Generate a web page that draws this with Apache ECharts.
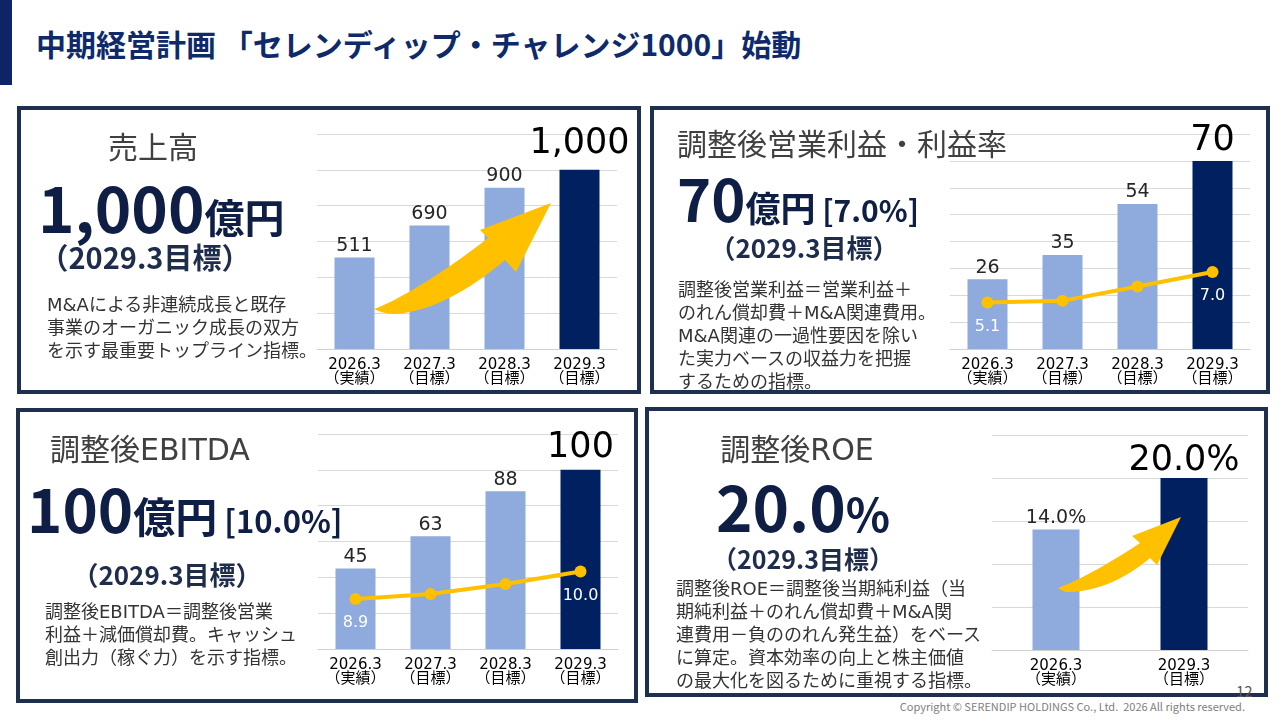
<!DOCTYPE html>
<html lang="ja">
<head>
<meta charset="utf-8">
<title>中期経営計画</title>
<script src="https://cdn.jsdelivr.net/npm/echarts@6/dist/echarts.min.js"></script>
<style>
  html, body { margin: 0; padding: 0; background: #fff; }
  body { width: 1280px; height: 720px; position: relative; overflow: hidden; font-family: "Noto Sans CJK JP", sans-serif; }
  .side-bar { position: absolute; left: 0; top: 0; width: 12px; height: 85px; background: #0e2466; }
  .page-title { position: absolute; left: 36px; top: 27px; font-size: 30px; line-height: 32px; font-weight: 700; color: #0e2a6b; white-space: nowrap; }
  .panel { position: absolute; border: 4px solid #1f2f4f; box-sizing: border-box; background: #fff; }
  #chart { position: absolute; left: 0; top: 0; width: 1280px; height: 720px; z-index: 1; }
  .t { position: absolute; white-space: nowrap; z-index: 2; line-height: 1; }
  .head { font-size: 30px; color: #404040; font-family: "DejaVu Sans", "Noto Sans CJK JP", sans-serif; }
  .big { font-weight: 700; color: #0f1e45; }
  .sub { font-size: 27px; font-weight: 700; color: #1f2d4d; }
  .desc { font-size: 18px; line-height: 23px; color: #333; font-family: "DejaVu Sans", "Noto Sans CJK JP", sans-serif; }
  .footer { position: absolute; right: 35px; top: 698px; font-size: 11px; color: #808080; white-space: nowrap; }
  .page-no { position: absolute; left: 1236px; top: 680px; font-size: 15px; color: #595959; }
</style>
</head>
<body>
<div class="side-bar"></div>
<div class="page-title">中期経営計画 「セレンディップ・チャレンジ1000」始動</div>

<div class="panel" style="left:17px;top:106px;width:624px;height:288px;"></div>
<div class="panel" style="left:650px;top:106px;width:620px;height:288px;"></div>
<div class="panel" style="left:16px;top:408px;width:622px;height:295px;"></div>
<div class="panel" style="left:645px;top:407px;width:623px;height:290px;"></div>

<div id="chart"></div>

<!-- 売上高 -->
<div class="t head" style="left:53px;width:200px;text-align:center;top:133px;">売上高</div>
<div class="t big" style="left:38px;top:175px;font-size:62px;">1,000<span style="font-size:40px;">億円</span></div>
<div class="t sub" style="left:25px;width:240px;text-align:center;top:242px;font-size:29px;">（2029.3目標）</div>
<div class="t desc" style="left:47px;top:293px;">M&amp;Aによる非連続成長と既存<br>事業のオーガニック成長の双方<br>を示す最重要トップライン指標。</div>

<!-- 調整後営業利益 -->
<div class="t head" style="left:677px;top:130px;">調整後営業利益・利益率</div>
<div class="t big" style="left:677px;top:168px;font-size:58px;">70<span style="font-size:35px;">億円</span><span style="font-size:30px;"> [7.0%]</span></div>
<div class="t sub" style="left:694px;width:220px;text-align:center;top:234px;font-size:26px;">（2029.3目標）</div>
<div class="t desc" style="left:678px;top:278px;">調整後営業利益＝営業利益＋<br>のれん償却費＋M&amp;A関連費用。<br>M&amp;A関連の一過性要因を除い<br>た実力ベースの収益力を把握<br>するための指標。</div>

<!-- 調整後EBITDA -->
<div class="t head" style="left:50px;top:435px;font-size:30px;">調整後EBITDA</div>
<div class="t big" style="left:27px;top:477px;font-size:60px;">100<span style="font-size:42px;">億円</span><span style="font-size:31px;"> [10.0%]</span></div>
<div class="t sub" style="left:67px;width:200px;text-align:center;top:561px;font-size:26px;">（2029.3目標）</div>
<div class="t desc" style="left:45px;top:600px;">調整後EBITDA＝調整後営業<br>利益＋減価償却費。キャッシュ<br>創出力（稼ぐ力）を示す指標。</div>

<!-- 調整後ROE -->
<div class="t head" style="left:697px;width:200px;text-align:center;top:435px;">調整後ROE</div>
<div class="t big" style="left:703px;width:200px;text-align:center;top:474px;font-size:62px;">20.0<span style="font-size:46px;">%</span></div>
<div class="t sub" style="left:703px;width:200px;text-align:center;top:546px;font-size:25px;">（2029.3目標）</div>
<div class="t desc" style="left:676px;top:577px;">調整後ROE＝調整後当期純利益（当<br>期純利益＋のれん償却費＋M&amp;A関<br>連費用－負ののれん発生益）をベース<br>に算定。資本効率の向上と株主価値<br>の最大化を図るために重視する指標。</div>

<div class="page-no">12</div>
<div class="footer">Copyright © SERENDIP HOLDINGS Co., Ltd.&nbsp; 2026 All rights reserved.</div>

<script>
// data
const periods = ['2026.3|（実績）', '2027.3|（目標）', '2028.3|（目標）', '2029.3|（目標）'];
const roePeriods = ['2026.3|（実績）', '2029.3|（目標）'];
const salesValues = [511, 690, 900, 1000];
const opProfitValues = [26, 35, 54, 70];
const opMarginValues = [5.1, 5.2, 6.1, 7.0];
const ebitdaValues = [45, 63, 88, 100];
const ebitdaMarginValues = [8.9, 9.1, 9.5, 10.0];
const roeValues = [14.0, 20.0];

const LIGHT = '#8FAADC';
const NAVY = '#002060';
const GOLD = '#FFC000';
const FONT = '"DejaVu Sans", "Noto Sans CJK JP", sans-serif';

const chart = echarts.init(document.getElementById('chart'), null, { renderer: 'canvas' });

function xAxisFor(gridIndex, data) {
  return {
    type: 'category', gridIndex: gridIndex, data: data,
    axisLine: { lineStyle: { color: '#d0d0d0', width: 1 } },
    axisTick: { show: false },
    axisLabel: {
      margin: 9, interval: 0,
      formatter: v => { const p = v.split('|'); return '{a|' + p[0] + '}\n{b|' + p[1] + '}'; },
      rich: {
        a: { fontFamily: FONT, fontSize: 15, lineHeight: 14, color: '#000' },
        b: { fontFamily: FONT, fontSize: 15, lineHeight: 15, color: '#000' }
      }
    }
  };
}

function yAxisFor(gridIndex, max, interval) {
  return {
    type: 'value', gridIndex: gridIndex, min: 0, max: max, interval: interval,
    axisLabel: { show: false }, axisLine: { show: false }, axisTick: { show: false },
    splitLine: { lineStyle: { color: '#d9d9d9', width: 1 } }
  };
}

function rateAxisFor(gridIndex, min, max) {
  return {
    type: 'value', gridIndex: gridIndex, min: min, max: max,
    axisLabel: { show: false }, axisLine: { show: false }, axisTick: { show: false },
    splitLine: { show: false }
  };
}

function barSeries(xIndex, yIndex, values, fmt, width, bigGap) {
  const last = values.length - 1;
  return {
    type: 'bar', xAxisIndex: xIndex, yAxisIndex: yIndex,
    barWidth: width,
    data: values.map((v, i) => ({
      value: v,
      itemStyle: { color: i === last ? NAVY : LIGHT },
      label: i === last ? { fontSize: 35, color: '#000', distance: bigGap } : undefined
    })),
    label: {
      show: true, position: 'top', distance: 2,
      fontFamily: FONT, fontSize: 19, color: '#262626',
      formatter: p => fmt(p.value)
    },
    z: 2
  };
}

function lineSeries(xIndex, yIndex, values) {
  const last = values.length - 1;
  return {
    type: 'line', xAxisIndex: xIndex, yAxisIndex: yIndex,
    symbol: 'circle', symbolSize: 12,
    lineStyle: { color: GOLD, width: 4 },
    itemStyle: { color: GOLD },
    data: values.map((v, i) => ({
      value: v,
      label: { show: i === 0 || i === last }
    })),
    label: {
      position: 'bottom', distance: 10,
      fontFamily: FONT, fontSize: 16, color: '#fff',
      formatter: p => p.value.toFixed(1)
    },
    z: 5
  };
}

// curved decoration arrow: sample the outline into polygon points
function arrowOutline(segs) {
  const pts = [];
  let cur = null;
  segs.forEach(s => {
    if (s[0] === 'M' || s[0] === 'L') {
      cur = [s[1], s[2]];
      pts.push(cur);
    } else if (s[0] === 'C') {
      const p0 = cur;
      for (let k = 1; k <= 16; k++) {
        const t = k / 16, u = 1 - t;
        pts.push([
          u * u * u * p0[0] + 3 * u * u * t * s[1] + 3 * u * t * t * s[3] + t * t * t * s[5],
          u * u * u * p0[1] + 3 * u * u * t * s[2] + 3 * u * t * t * s[4] + t * t * t * s[6]
        ]);
      }
      cur = [s[5], s[6]];
    }
  });
  return pts;
}

const salesArrow = arrowOutline([
  ['M', 374, 309], ['C', 400, 300, 450, 268, 488, 238], ['L', 480, 230], ['L', 551, 203],
  ['L', 516, 272], ['L', 505, 260], ['C', 470, 290, 430, 312, 395, 314], ['C', 388, 314, 380, 312, 374, 309]
]);
const roeArrow = arrowOutline([
  ['M', 1058, 588], ['C', 1080, 580, 1115, 560, 1140, 543], ['L', 1132, 536], ['L', 1181, 517],
  ['L', 1157, 565], ['L', 1150, 558], ['C', 1130, 575, 1100, 592, 1068, 592], ['C', 1064, 592, 1061, 590, 1058, 588]
]);

chart.setOption({
  backgroundColor: 'transparent',
  animation: false,
  textStyle: { fontFamily: FONT },
  grid: [
    { left: 317, top: 134, width: 300, height: 215 },
    { left: 950, top: 134, width: 300, height: 215 },
    { left: 318, top: 434, width: 300, height: 215 },
    { left: 992, top: 435, width: 256, height: 215 }
  ],
  xAxis: [
    xAxisFor(0, periods),
    xAxisFor(1, periods),
    xAxisFor(2, periods),
    xAxisFor(3, roePeriods)
  ],
  yAxis: [
    yAxisFor(0, 1200, 200),
    yAxisFor(1, 80, 10),
    rateAxisFor(1, 2.2, 15.6),
    yAxisFor(2, 120, 20),
    rateAxisFor(2, 6.9, 15.5),
    yAxisFor(3, 25, 5)
  ],
  series: [
    barSeries(0, 0, salesValues, v => v.toLocaleString('en-US'), 40, 8),
    barSeries(1, 1, opProfitValues, v => String(v), 40, 2),
    lineSeries(1, 2, opMarginValues),
    barSeries(2, 3, ebitdaValues, v => String(v), 40, 4),
    lineSeries(2, 4, ebitdaMarginValues),
    barSeries(3, 5, roeValues, v => v.toFixed(1) + '%', 47, 0)
  ],
  graphic: [
    { type: 'polygon', z: 20, shape: { points: salesArrow }, style: { fill: GOLD } },
    { type: 'polygon', z: 20, shape: { points: roeArrow }, style: { fill: GOLD } }
  ]
});

window.addEventListener('resize', () => chart.resize());
</script>
</body>
</html>
